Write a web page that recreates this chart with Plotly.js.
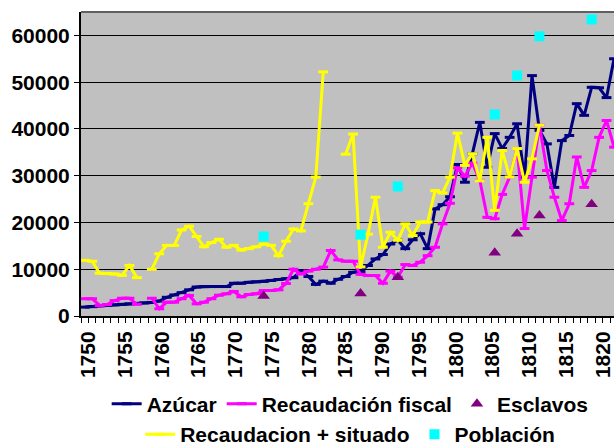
<!DOCTYPE html>
<html>
<head>
<meta charset="utf-8">
<script src="https://cdn.plot.ly/plotly-3.0.1.min.js"></script>
<style>html,body{margin:0;padding:0;background:#fff;}#chart{width:614px;height:447px;}</style>
</head>
<body>
<div id="chart"></div>
<script>
const years = [1750,1751,1752,1753,1754,1755,1756,1757,1758,1759,
  1760,1761,1762,1763,1764,1765,1766,1767,1768,1769,
  1770,1771,1772,1773,1774,1775,1776,1777,1778,1779,
  1780,1781,1782,1783,1784,1785,1786,1787,1788,1789,
  1790,1791,1792,1793,1794,1795,1796,1797,1798,1799,
  1800,1801,1802,1803,1804,1805,1806,1807,1808,1809,
  1810,1811,1812,1813,1814,1815,1816,1817,1818,1819,
  1820,1821];

const azucar = [1900,2000,2200,2300,2400,2500,2600,2700,2800,2900,
  3200,4000,4500,5000,5600,6200,6300,6300,6300,6300,
  7000,7000,7200,7300,7400,7600,7800,7950,8200,9600,
  8450,6750,7450,7000,7850,8450,9350,9500,10800,12200,
  13150,15400,16200,14400,16300,17600,14400,22900,23800,25500,
  32400,28600,34700,41400,31800,39000,35800,38200,41100,29700,
  51400,39700,36800,27500,37500,38600,45400,42900,48900,48800,
  46700,55000];

const recaudacion = [3700,3700,2250,2450,3300,3800,3800,2500,null,3800,
  1550,2950,2950,3700,4400,2600,2950,3700,4450,4750,
  5250,4100,4600,4750,5450,5450,5600,6950,10000,9000,
  9600,10000,10450,14000,12000,11700,11700,8900,8650,8650,
  7000,9600,8300,11000,10800,11500,12900,14700,19700,24100,
  31700,29900,32700,29000,21100,20800,26000,29700,35800,18700,
  29700,40800,31100,25400,20400,24000,34000,27500,31100,38200,
  41800,36100];

const recSituado = [11900,11700,9150,9100,9000,8700,10800,8200,null,10000,
  13300,15100,15100,18400,19200,17000,14800,15700,16400,14700,
  15100,14100,14400,14800,15400,15100,12900,16000,18600,18200,
  24000,29700,52200,null,null,34600,38900,10500,17500,25400,
  14700,17900,16200,19700,17200,20100,20100,26800,26300,29700,
  39100,32200,34700,28900,38200,22600,35400,29700,35800,28600,
  33600,40800,null,null,null,null,null,null,null,null,
  null,null];

const censusYears = [1774,1787,1792,1805,1808,1811,1818];
const esclavos   = [4300,4800,8300,13500,17600,21500,23900];
const poblacion  = [17000,17400,27700,43100,51400,59800,63400];

const yTicks = [0,10000,20000,30000,40000,50000,60000];
const xTickYears = [1750,1755,1760,1765,1770,1775,1780,1785,1790,1795,1800,1805,1810,1815,1820];

const FONT = 'Liberation Sans, Arial, sans-serif';
const bold = (s)=>({family: FONT, size: s, color: '#000', weight: 'bold'});

// label placement matching the reference's label spacing
const xTickPos = xTickYears.map(y => y + 0.5 - (y - 1750) * 0.0143);

function lineTrace(name, y, color, legend){
  return {
    type: 'scatter', mode: 'lines+markers', name: name, x: years, y: y,
    connectgaps: false, legend: legend, cliponaxis: true,
    line: {color: color, width: 3},
    marker: {symbol: 'line-ew', size: 7, color: color, line: {color: color, width: 3}}
  };
}

const data = [
  lineTrace('Azúcar', azucar, '#000080', 'legend'),
  lineTrace('Recaudación fiscal', recaudacion, '#FF00FF', 'legend'),
  {type: 'scatter', mode: 'markers', name: 'Esclavos', x: censusYears, y: esclavos, legend: 'legend',
   marker: {symbol: 'triangle-up', size: 11, color: '#800080'}},
  lineTrace('Recaudacion + situado', recSituado, '#FFFF00', 'legend2'),
  {type: 'scatter', mode: 'markers', name: 'Población', x: censusYears, y: poblacion, legend: 'legend2',
   marker: {symbol: 'square', size: 10, color: '#00FFFF'}}
];

const layout = {
  width: 614, height: 447,
  margin: {l: 81, r: 0, t: 12, b: 131, pad: 0, autoexpand: false},
  paper_bgcolor: '#FFFFFF', plot_bgcolor: '#C0C0C0',
  font: bold(21),
  xaxis: {
    type: 'linear', range: [1749.5, 1821.0], automargin: false,
    tickmode: 'array', tickvals: xTickPos, ticktext: xTickYears.map(String),
    tickangle: -90, tickfont: bold(21), ticklabeloverflow: 'allow',
    ticks: 'outside', ticklen: 5, tickcolor: 'rgba(0,0,0,0)',
    minor: {tickmode: 'linear', tick0: 1749.5, dtick: 1, ticks: 'outside', ticklen: 5, tickcolor: '#000', tickwidth: 1, showgrid: false},
    showline: true, linecolor: '#000', linewidth: 2,
    showgrid: false, zeroline: false, fixedrange: true
  },
  yaxis: {
    range: [0, 65000], tickmode: 'array', tickvals: yTicks, ticktext: yTicks.map(String), automargin: false,
    tickfont: bold(21), ticks: 'outside', ticklen: 5, tickcolor: '#000',
    showline: true, linecolor: '#000', linewidth: 2,
    showgrid: true, gridcolor: '#000', gridwidth: 1, zeroline: false, fixedrange: true
  },
  shapes: [
    {type: 'line', xref: 'paper', yref: 'paper', x0: 0, x1: 1, y0: 1, y1: 1, line: {color: '#606060', width: 2}}
  ],
  showlegend: true,
  legend: {orientation: 'h', x: 0.505, xanchor: 'center', y: -0.29, yanchor: 'middle',
           font: bold(21), bgcolor: 'rgba(0,0,0,0)', traceorder: 'normal'},
  legend2: {orientation: 'h', x: 0.505, xanchor: 'center', y: -0.39, yanchor: 'middle',
           font: bold(21), bgcolor: 'rgba(0,0,0,0)', traceorder: 'normal'}
};

Plotly.newPlot('chart', data, layout, {staticPlot: true, displayModeBar: false});
</script>
</body>
</html>
